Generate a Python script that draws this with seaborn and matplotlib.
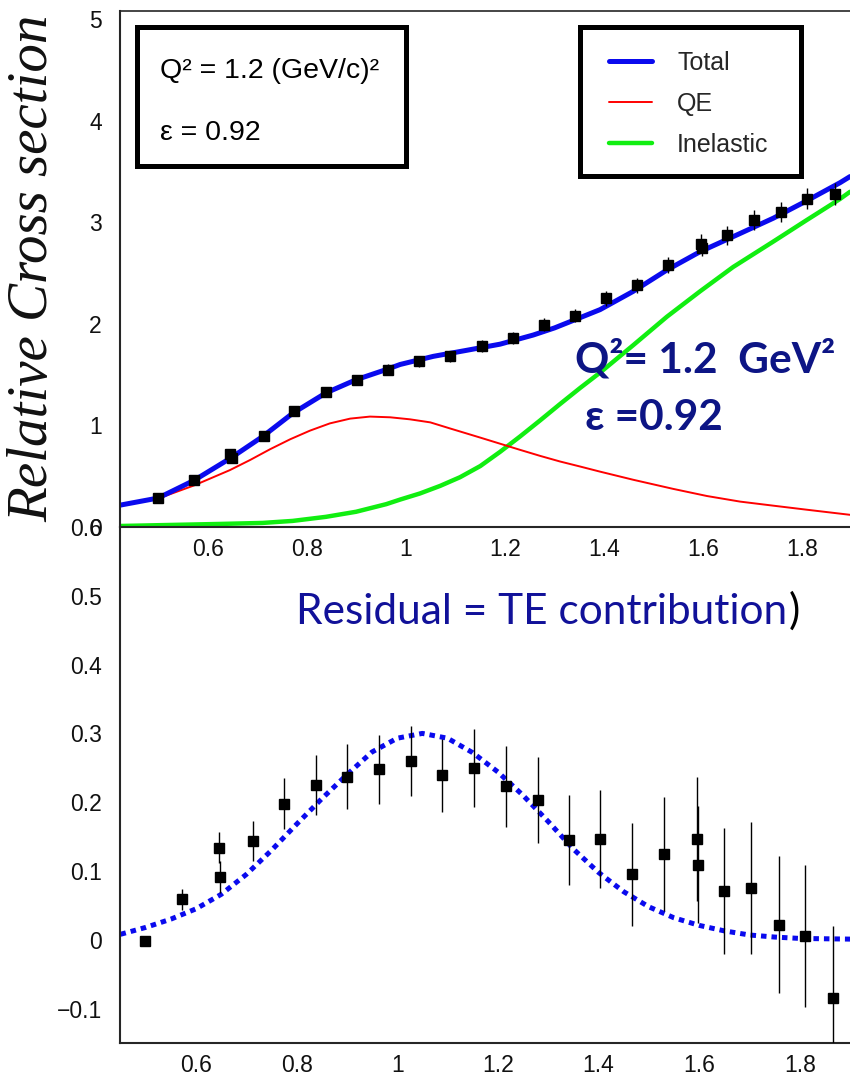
import numpy as np
import pandas as pd
import matplotlib
matplotlib.use("Agg")
import matplotlib.pyplot as plt
import seaborn as sns
from matplotlib.patches import Rectangle
from matplotlib.ticker import MultipleLocator, FuncFormatter

# ---------------- data ----------------
nu_pts = [0.499, 0.572, 0.645, 0.648, 0.713, 0.774, 0.838, 0.901, 0.964, 1.027,
          1.089, 1.153, 1.216, 1.279, 1.341, 1.404, 1.467, 1.530, 1.595, 1.597,
          1.649, 1.703, 1.758, 1.811, 1.866]
xs_pts = [0.285, 0.46, 0.72, 0.68, 0.90, 1.14, 1.33, 1.45, 1.55, 1.63,
          1.68, 1.78, 1.86, 1.99, 2.08, 2.25, 2.38, 2.58, 2.79, 2.75,
          2.87, 3.02, 3.10, 3.23, 3.28]
res_pts = [-0.002, 0.059, 0.134, 0.091, 0.143, 0.198, 0.225, 0.237, 0.248, 0.260,
           0.239, 0.250, 0.223, 0.203, 0.145, 0.147, 0.095, 0.125, 0.146, 0.109,
           0.071, 0.075, 0.022, 0.005, -0.085]
err_pts = [0.005, 0.015, 0.023, 0.023, 0.029, 0.037, 0.043, 0.047, 0.050, 0.051,
           0.053, 0.057, 0.059, 0.063, 0.066, 0.071, 0.075, 0.083, 0.090, 0.085,
           0.092, 0.096, 0.100, 0.103, 0.105]

nu_total = [0.422, 0.499, 0.572, 0.646, 0.710, 0.771, 0.838, 0.899, 0.960, 0.988,
            1.055, 1.123, 1.190, 1.257, 1.300, 1.341, 1.392, 1.459, 1.527, 1.594,
            1.675, 1.742, 1.809, 1.877, 1.897]
total = [0.215, 0.285, 0.46, 0.68, 0.89, 1.12, 1.32, 1.45, 1.55, 1.60,
         1.68, 1.74, 1.80, 1.89, 1.96, 2.04, 2.14, 2.32, 2.53, 2.71,
         2.89, 3.04, 3.21, 3.39, 3.45]

nu_qe = [0.422, 0.499, 0.572, 0.644, 0.685, 0.725, 0.766, 0.806, 0.846, 0.887,
         0.927, 0.968, 1.008, 1.049, 1.089, 1.150, 1.190, 1.230, 1.271, 1.311,
         1.352, 1.392, 1.459, 1.540, 1.608, 1.675, 1.742, 1.810, 1.897]
qe = [0.215, 0.28, 0.41, 0.56, 0.66, 0.765, 0.864, 0.949, 1.02, 1.067,
      1.087, 1.08, 1.06, 1.03, 0.97, 0.88, 0.82, 0.76, 0.70, 0.645,
      0.595, 0.545, 0.465, 0.375, 0.305, 0.25, 0.21, 0.17, 0.12]

nu_inel = [0.422, 0.623, 0.710, 0.771, 0.838, 0.899, 0.960, 0.988, 1.028, 1.069,
           1.109, 1.150, 1.190, 1.230, 1.271, 1.311, 1.352, 1.392, 1.459, 1.527,
           1.594, 1.661, 1.742, 1.809, 1.877, 1.897]
inel = [0.01, 0.03, 0.04, 0.06, 0.10, 0.15, 0.225, 0.27, 0.33, 0.405,
        0.49, 0.60, 0.74, 0.89, 1.05, 1.21, 1.37, 1.52, 1.79, 2.07,
        2.32, 2.56, 2.81, 3.02, 3.23, 3.30]

nu_te = [0.45, 0.50, 0.55, 0.60, 0.65, 0.70, 0.75, 0.80, 0.85, 0.90, 0.95, 1.00,
         1.05, 1.10, 1.15, 1.20, 1.25, 1.30, 1.35, 1.40, 1.45, 1.50, 1.55, 1.60,
         1.65, 1.70, 1.75, 1.80, 1.90]
te_fit = [0.008, 0.018, 0.030, 0.045, 0.066, 0.095, 0.130, 0.168, 0.205, 0.240,
          0.273, 0.293, 0.300, 0.293, 0.272, 0.244, 0.210, 0.172, 0.132, 0.098,
          0.070, 0.048, 0.032, 0.021, 0.013, 0.007, 0.004, 0.002, 0.001]

legend_labels = ["Total", "QE", "Inelastic"]

# ---------------- style ----------------
sns.set_style("white")
sans = ["Liberation Sans", "DejaVu Sans"]
plt.rcParams["font.family"] = sans
plt.rcParams["axes.linewidth"] = 1.5

W, H = 850, 1083
fig = plt.figure(figsize=(W / 100, H / 100), dpi=100)


def fx(px):
    return px / W


def fy(py):
    return 1 - py / H


ax1 = fig.add_axes([fx(120), fy(527), fx(850) - fx(120), fy(11) - fy(527)])
ax2 = fig.add_axes([fx(120), fy(1043), fx(850) - fx(120), fy(527) - fy(1043)])
ax2.patch.set_alpha(0)
ax1.set_zorder(3)
ax1.patch.set_alpha(0)

fmt = FuncFormatter(lambda v, p: f"{v:g}".replace("-", "\u2212"))

# ---------------- top panel ----------------
blue, red, green = "#0a0aee", "#ff0000", "#11ee11"
sns.lineplot(x=nu_inel, y=inel, ax=ax1, color=green, lw=3.2,
             label=legend_labels[2], legend=False)
sns.lineplot(x=nu_qe, y=qe, ax=ax1, color=red, lw=1.4,
             label=legend_labels[1], legend=False)
sns.lineplot(x=nu_total, y=total, ax=ax1, color=blue, lw=3.6,
             label=legend_labels[0], legend=False)
ax1.errorbar(nu_pts, xs_pts, yerr=err_pts, fmt="s", color="black", ms=6.5,
             elinewidth=1.0, capsize=0, zorder=5)

ax1.set_xlim(0.422, 1.897)
ax1.set_ylim(0, 5.08)
ax1.set_xlabel("")
ax1.set_ylabel("")
ax1.xaxis.set_major_locator(MultipleLocator(0.2))
ax1.xaxis.set_minor_locator(MultipleLocator(0.05))
ax1.yaxis.set_major_locator(MultipleLocator(1))
ax1.yaxis.set_minor_locator(MultipleLocator(0.2))
ax1.xaxis.set_major_formatter(fmt)
ax1.yaxis.set_major_formatter(fmt)
ax1.spines["right"].set_visible(False)
ax1.spines["top"].set_linewidth(1.2)

# ---------------- bottom panel ----------------
sns.lineplot(x=nu_te, y=te_fit, ax=ax2, color=blue, lw=3.6,
             linestyle=(0, (1.1, 1.0)))
ax2.errorbar(nu_pts, res_pts, yerr=err_pts, fmt="s", color="black", ms=6.5,
             elinewidth=1.0, capsize=0, zorder=5)
ax2.set_xlim(0.449, 1.9)
ax2.set_ylim(-0.15, 0.6)
ax2.set_xlabel("")
ax2.set_ylabel("")
ax2.xaxis.set_major_locator(MultipleLocator(0.2))
ax2.xaxis.set_minor_locator(MultipleLocator(0.05))
ax2.yaxis.set_major_locator(MultipleLocator(0.1))
ax2.yaxis.set_minor_locator(MultipleLocator(0.02))
ax2.xaxis.set_major_formatter(fmt)
ax2.yaxis.set_major_formatter(fmt)
ax2.spines["right"].set_visible(False)
ax2.spines["top"].set_visible(False)

for ax in (ax1, ax2):
    ax.tick_params(axis="both", which="both", direction="in", colors="black",
                   labelsize=16.5, labelcolor="#111111", width=1.1)
    ax.tick_params(axis="y", which="major", length=9.5, pad=13)
    ax.tick_params(axis="y", which="minor", length=5)
    ax.tick_params(axis="x", which="major", length=14, pad=8)
    ax.tick_params(axis="x", which="minor", length=7)
    ax.tick_params(top=False, right=False)
    ax.grid(False)

# ---------------- annotations ----------------
fig.text(fx(33), fy(268), "Relative Cross section", rotation=90, ha="center",
         va="center", family=["Liberation Serif", "DejaVu Serif"],
         style="italic", size=41, color="#111111")

# info box (top-left)
fig.patches.append(Rectangle((fx(137), fy(166)), fx(406) - fx(137), fy(27) - fy(166),
                             transform=fig.transFigure, fill=False, ec="black",
                             lw=3.6, zorder=10))
fig.text(fx(160), fy(78), "Q\u00b2 = 1.2 (GeV/c)\u00b2", ha="left", va="baseline",
         size=20.5, family=sans, color="black", zorder=11)
fig.text(fx(160), fy(140), "\u03b5 = 0.92", ha="left", va="baseline",
         size=20.5, family=sans, color="black", zorder=11)

# legend box
fig.patches.append(Rectangle((fx(580), fy(176)), fx(801) - fx(580), fy(27.5) - fy(176),
                             transform=fig.transFigure, fill=False, ec="black",
                             lw=3.6, zorder=10))
handles, labels = ax1.get_legend_handles_labels()
order = [labels.index(l) for l in legend_labels]
leg = ax1.legend([handles[i] for i in order], [labels[i] for i in order],
                 loc="upper left", bbox_to_anchor=(fx(609), fy(51)),
                 bbox_transform=fig.transFigure, frameon=False, borderpad=0,
                 borderaxespad=0, handlelength=1.72, handletextpad=1.0,
                 labelspacing=0.68, prop={"family": sans, "size": 18})

navy = "#0d1585"
fig.text(fx(575), fy(372), "Q\u00b2= 1.2  GeV\u00b2", ha="left", va="baseline",
         size=30.5, weight="bold", family=["Lato", "DejaVu Sans"], color=navy)
fig.text(fx(585), fy(430), "\u03b5 =0.92", ha="left", va="baseline",
         size=30.5, weight="bold", family=["Lato", "DejaVu Sans"], color=navy)

res_txt = fig.text(fx(296), fy(624), "Residual = TE contribution", ha="left",
                   va="baseline", size=30.5, family=["Lato", "DejaVu Sans"],
                   color="#111199")
fig.canvas.draw()
bb = res_txt.get_window_extent(renderer=fig.canvas.get_renderer())
fig.text(bb.x1 / W + 0.002, fy(624), ")", ha="left", va="baseline", size=30.5,
         family=["Lato", "DejaVu Sans"], color="black")

fig.savefig("out.png", dpi=100)
